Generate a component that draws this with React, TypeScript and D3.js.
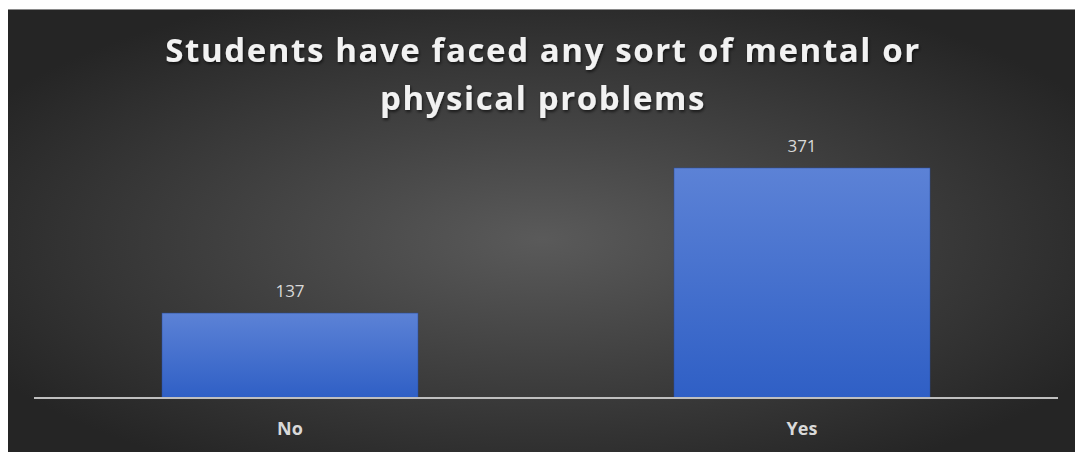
import React from "react";
import * as d3 from "d3";

const categories = ["No", "Yes"];
const values = [137, 371];
const titleLines = ["Students have faced any sort of mental or", "physical problems"];

const W = 1075;
const H = 452;
const plot = { left: 34, right: 1058, top: 150, bottom: 398 };

export default function App() {
  const x = d3.scaleBand<string>().domain(categories).range([plot.left, plot.right]).paddingInner(0.5).paddingOuter(0.25);
  const y = d3.scaleLinear().domain([0, 400]).range([plot.bottom, plot.top]);
  const font = "'Open Sans', 'DejaVu Sans', sans-serif";
  return (
    <div style={{ position: "absolute", left: 0, top: 0 }}>
      <svg width={W} height={H} style={{ display: "block" }}>
        <defs>
          <radialGradient id="bg" cx="0.5" cy="0.52" r="0.6" gradientUnits="objectBoundingBox">
            <stop offset="0" stopColor="#5a5a5a" />
            <stop offset="1" stopColor="#252525" />
          </radialGradient>
          <linearGradient id="bar" x1="0" y1="0" x2="0" y2="1">
            <stop offset="0" stopColor="#5c82d6" />
            <stop offset="1" stopColor="#2f5fc5" />
          </linearGradient>
          <filter id="shadow" x="-10%" y="-30%" width="120%" height="160%">
            <feDropShadow dx="1" dy="2" stdDeviation="1.5" floodColor="#000" floodOpacity="0.6" />
          </filter>
        </defs>
        <rect x={0} y={0} width={W} height={H} fill="#ffffff" />
        <rect x={8} y={9} width={W - 8} height={H - 9} fill="url(#bg)" />
        <line x1={8} x2={W} y1={9.5} y2={9.5} stroke="#8a8a8a" strokeWidth={1} />
        {titleLines.map((t, i) => (
          <text
            key={i}
            x={543}
            y={62 + i * 48}
            textAnchor="middle"
            fill="#f2f2f2"
            fontFamily={font}
            fontWeight={700}
            fontSize={33}
            letterSpacing={1.6}
            filter="url(#shadow)"
          >
            {t}
          </text>
        ))}
        {categories.map((c, i) => (
          <g key={c}>
            <rect
              x={x(c)!}
              y={y(values[i])}
              width={x.bandwidth()}
              height={plot.bottom - y(values[i])}
              fill="url(#bar)"
              stroke="#2a4e9e"
              strokeWidth={0.5}
            />
            <text
              x={x(c)! + x.bandwidth() / 2}
              y={y(values[i]) - 16}
              textAnchor="middle"
              fill="#d9d9d9"
              fontFamily={font}
              fontSize={17}
            >
              {values[i]}
            </text>
            <text
              x={x(c)! + x.bandwidth() / 2}
              y={435}
              textAnchor="middle"
              fill="#d9d9d9"
              fontFamily={font}
              fontWeight={700}
              fontSize={18}
            >
              {c}
            </text>
          </g>
        ))}
        <line x1={plot.left} x2={plot.right} y1={plot.bottom} y2={plot.bottom} stroke="#bfbfbf" strokeWidth={2} />
      </svg>
    </div>
  );
}
